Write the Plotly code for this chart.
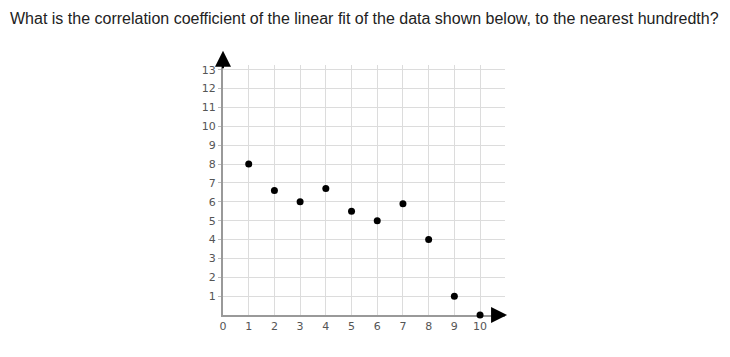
import plotly.graph_objects as go

x_values = [1, 2, 3, 4, 5, 6, 7, 8, 9, 10]
y_values = [8, 6.6, 6, 6.7, 5.5, 5, 5.9, 4, 1, 0]
x_ticks = list(range(0, 11))
y_ticks = list(range(1, 14))
title_text = "What is the correlation coefficient of the linear fit of the data shown below, to the nearest hundredth?"

fig = go.Figure()
fig.add_trace(go.Scatter(
    x=x_values, y=y_values, mode="markers",
    marker=dict(color="black", size=7),
    cliponaxis=False, showlegend=False, hoverinfo="skip"))

fig.update_layout(
    width=722, height=349,
    margin=dict(l=215, r=225, t=57, b=42),
    paper_bgcolor="white", plot_bgcolor="white",
    font=dict(family="DejaVu Sans", color="#555"),
    xaxis=dict(range=[0, 10.97], tickvals=x_ticks, ticktext=[str(v) for v in x_ticks],
               showgrid=True, gridcolor="#dcdcdc", gridwidth=1,
               showline=True, linecolor="#999", linewidth=2, layer="below traces",
               zeroline=False, ticks="", tickfont=dict(size=11, color="#555"),
               fixedrange=True),
    yaxis=dict(range=[0, 13.25], tickvals=y_ticks, ticktext=[str(v) for v in y_ticks],
               showgrid=True, gridcolor="#dcdcdc", gridwidth=1,
               showline=True, linecolor="#999", linewidth=2, layer="below traces",
               zeroline=False, ticks="outside", ticklen=3, tickcolor="#bbb",
               tickfont=dict(size=11, color="#555"), fixedrange=True),
    annotations=[
        dict(text=title_text, xref="paper", yref="paper", x=-215/282, y=1 + 47/250,
             xanchor="left", yanchor="middle", showarrow=False,
             font=dict(family="Liberation Sans, Arial", size=16, color="#222")),
        dict(x=0, y=14.0, xref="x", yref="y", ax=0, ay=13.0, axref="x", ayref="y",
             showarrow=True, arrowhead=2, arrowsize=1.6, arrowwidth=2, arrowcolor="black",
             text=""),
        dict(x=11.05, y=0, xref="x", yref="y", ax=10.45, ay=0, axref="x", ayref="y",
             showarrow=True, arrowhead=2, arrowsize=1.6, arrowwidth=2, arrowcolor="black",
             text=""),
    ],
)

fig.write_html("out.html")
